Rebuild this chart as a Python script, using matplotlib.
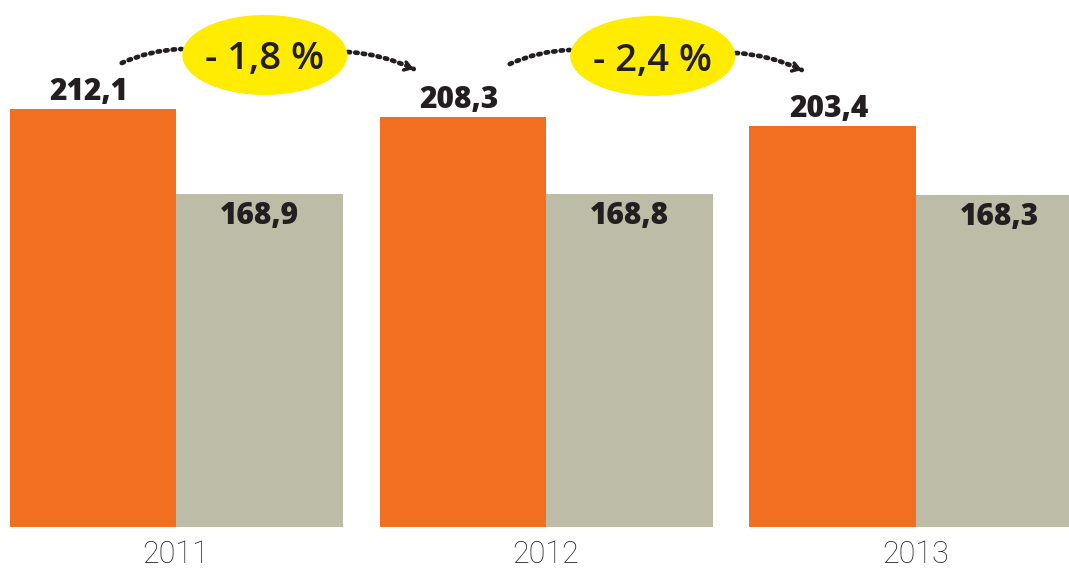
import matplotlib
matplotlib.use("Agg")
import matplotlib.pyplot as plt
from matplotlib.patches import Ellipse, FancyArrowPatch

# ---- data ----
years = ["2011", "2012", "2013"]
series_a = [212.1, 208.3, 203.4]   # orange
series_b = [168.9, 168.8, 168.3]   # grey

# ---- style ----
ORANGE = "#F26F21"
GREY = "#BDBDA7"
YELLOW = "#FFEC00"
DARK = "#231F20"
W, H = 1069, 568
PX_X = 370.0      # pixels per group
PX_Y = 1.97       # pixels per value unit
X0_PX = 176.0     # pixel x of group 0 centre
BASE_PX = 527.0   # pixel y of baseline

fig = plt.figure(figsize=(W / 100, H / 100), dpi=100)
ax = fig.add_axes([0, 0, 1, 1])
ax.set_xlim((0 - X0_PX) / PX_X, (W - X0_PX) / PX_X)
ax.set_ylim((BASE_PX - H) / PX_Y, BASE_PX / PX_Y)
ax.axis("off")

bw = 166.5 / PX_X
xs = list(range(len(years)))
xa = [x - bw / 2 for x in xs]
xb = [x + bw / 2 for x in xs]
ax.bar(xa, series_a, width=bw, color=ORANGE, linewidth=0)
ax.bar(xb, series_b, width=bw, color=GREY, linewidth=0)

def fmt(v):
    return f"{v:.1f}".replace(".", ",")

for x, v in zip(xa, series_a):
    ax.annotate(fmt(v), (x, v), xytext=(-4, 9), textcoords="offset pixels",
                ha="center", va="baseline", fontsize=21.5, fontweight=800,
                family="Open Sans", color=DARK)
for x, v in zip(xb, series_b):
    ax.annotate(fmt(v), (x, v), xytext=(0, -30), textcoords="offset pixels",
                ha="center", va="baseline", fontsize=21.5, fontweight=800,
                family="Open Sans", color=DARK)

for x, y in zip(xs, years):
    ax.text(x, (BASE_PX - 563) / PX_Y, y, ha="center", va="baseline",
            fontsize=22, fontweight="light", family="Roboto", color="#222222")

# change bubbles
def d(dx_px, dy_px):
    return dx_px / PX_X, -dy_px / PX_Y

bubble_offsets = [(-13, -2), (5, -1)]   # pixel nudges from midpoint of orange bars
for i in range(len(years) - 1):
    a, b = series_a[i], series_a[i + 1]
    pct = (b - a) / a * 100
    mx = (xa[i] + xa[i + 1]) / 2
    ox, oy = d(*bubble_offsets[i])
    cx = mx + ox
    cy = (BASE_PX - 57) / PX_Y + oy
    ax.add_patch(Ellipse((cx, cy), 165 / PX_X, 80 / PX_Y, color=YELLOW, lw=0, zorder=3))
    ax.text(cx, cy, "- " + f"{abs(pct):.1f}".replace(".", ",") + " %",
            ha="center", va="center_baseline", fontsize=27.5, fontweight="semibold",
            family="Open Sans", color=DARK, zorder=4)
    # dotted connectors
    segs = [((-143, 8), (-83, -6), False), ((83, -3), (149, 14), True)]
    for (sx, sy), (ex, ey), head in segs:
        p0 = (cx + d(sx, sy)[0], cy + d(sx, sy)[1])
        p1 = (cx + d(ex, ey)[0], cy + d(ex, ey)[1])
        arc = FancyArrowPatch(p0, p1, arrowstyle="-", connectionstyle="arc3,rad=-0.1",
                              linestyle=(0, (0.5, 1.1)), linewidth=3.4, color=DARK,
                              capstyle="round", shrinkA=0, shrinkB=0, zorder=2)
        ax.add_patch(arc)
        if head:
            h0 = (p1[0] - 6 / PX_X, p1[1] + 2 / PX_Y)
            ax.annotate("", xy=p1, xytext=h0,
                        arrowprops=dict(arrowstyle="->,head_length=0.45,head_width=0.3",
                                        lw=2.5, color=DARK, shrinkA=0, shrinkB=0))

fig.savefig("out.png", dpi=100)
